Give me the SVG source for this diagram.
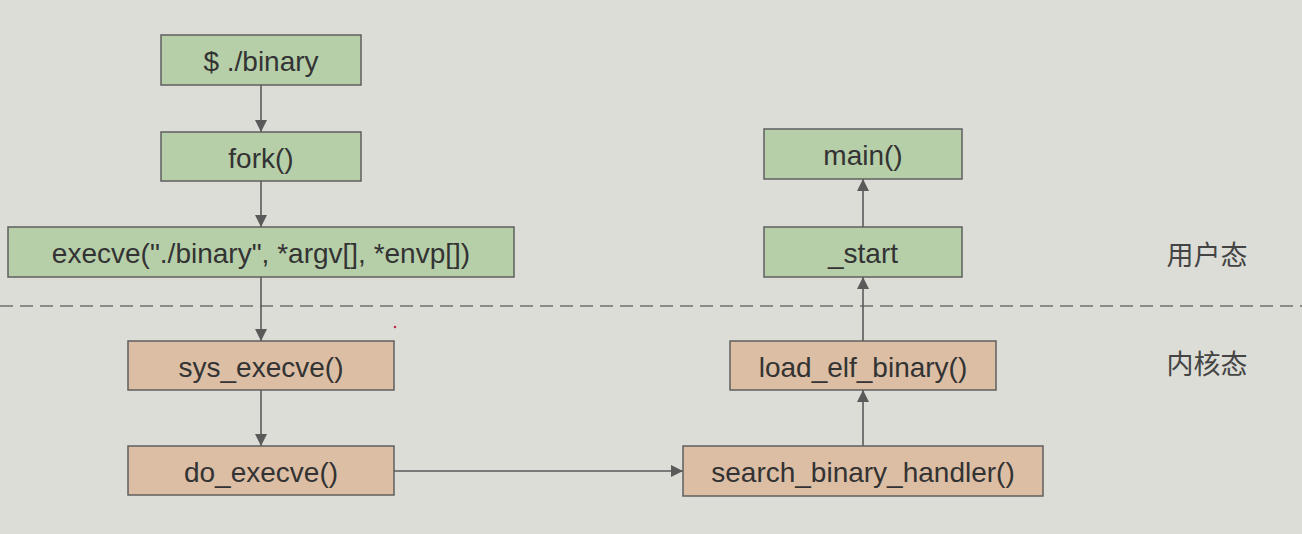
<svg xmlns="http://www.w3.org/2000/svg" width="1302" height="534" viewBox="0 0 1302 534">
<defs>
<style>
.u{fill:#b6cfa9;stroke:#5f5f5f;stroke-width:1.5}
.k{fill:#dbbea4;stroke:#5f5f5f;stroke-width:1.5}
.t{font-family:"Liberation Sans",Arial,sans-serif;font-size:28px;fill:#333;text-anchor:middle;dominant-baseline:central}
.c{font-family:"Noto Sans CJK SC",sans-serif;font-size:27px;fill:#444;text-anchor:middle;dominant-baseline:central}
.e{stroke:#5a5a5a;stroke-width:1.6;fill:none;marker-end:url(#ah)}
</style>
<marker id="ah" viewBox="0 0 10 10" refX="10" refY="5" markerWidth="12" markerHeight="12" markerUnits="userSpaceOnUse" orient="auto">
<path d="M0,0 L10,5 L0,10 Z" fill="#5a5a5a"/>
</marker>
</defs>
<rect width="1302" height="534" fill="#dcddd6"/>
<line x1="0" y1="306" x2="1302" y2="306" stroke="#8a8b86" stroke-width="2" stroke-dasharray="13 7"/>
<circle cx="395" cy="327" r="1.3" fill="#c0304a"/>
<g id="connectors">
<line class="e" x1="261" y1="85" x2="261" y2="132"/>
<line class="e" x1="261" y1="181" x2="261" y2="227"/>
<line class="e" x1="261" y1="277" x2="261" y2="341"/>
<line class="e" x1="261" y1="390" x2="261" y2="446"/>
<line class="e" x1="394" y1="471" x2="683" y2="471"/>
<line class="e" x1="863" y1="446" x2="863" y2="390"/>
<line class="e" x1="863" y1="341" x2="863" y2="277"/>
<line class="e" x1="863" y1="227" x2="863" y2="179"/>
</g>
<g id="n1"><rect class="u" x="161" y="35" width="200" height="50"/><text class="t" x="261" y="61">$ ./binary</text></g>
<g id="n2"><rect class="u" x="161" y="132" width="200" height="49"/><text class="t" x="261" y="158">fork()</text></g>
<g id="n3"><rect class="u" x="8" y="227" width="506" height="50"/><text class="t" x="261" y="253">execve("./binary", *argv[], *envp[])</text></g>
<g id="n4"><rect class="k" x="128" y="341" width="266" height="49"/><text class="t" x="261" y="367">sys_execve()</text></g>
<g id="n5"><rect class="k" x="128" y="446" width="266" height="49"/><text class="t" x="261" y="472">do_execve()</text></g>
<g id="n6"><rect class="k" x="683" y="446" width="360" height="50"/><text class="t" x="863" y="472">search_binary_handler()</text></g>
<g id="n7"><rect class="k" x="730" y="341" width="266" height="49"/><text class="t" x="863" y="367">load_elf_binary()</text></g>
<g id="n8"><rect class="u" x="764" y="227" width="198" height="50"/><text class="t" x="863" y="253">_start</text></g>
<g id="n9"><rect class="u" x="764" y="129" width="198" height="50"/><text class="t" x="863" y="155">main()</text></g>
<g id="l1"><text class="c" x="1207" y="253">用户态</text></g>
<g id="l2"><text class="c" x="1207" y="362">内核态</text></g>
</svg>
